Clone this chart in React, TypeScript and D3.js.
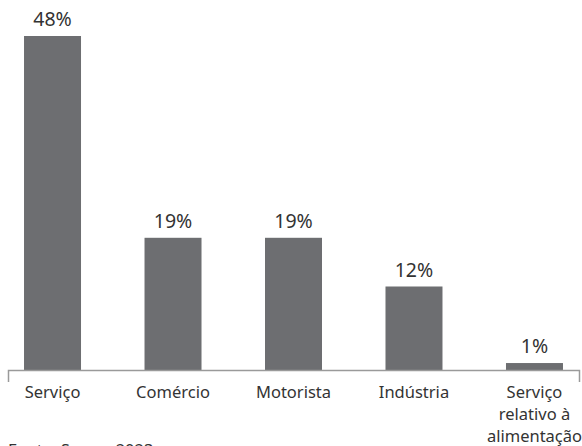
import React, { useEffect, useRef } from "react";
import * as d3 from "d3";

const categories: string[][] = [
  ["Serviço"],
  ["Comércio"],
  ["Motorista"],
  ["Indústria"],
  ["Serviço", "relativo à", "alimentação"],
];
const values: number[] = [48, 19, 19, 12, 1];
const valueLabels: string[] = ["48%", "19%", "19%", "12%", "1%"];
const sourceText = "Fonte: Souza, 2023";

const W = 582;
const H = 446;
const FONT = "'Noto Sans', sans-serif";

export default function App() {
  const axisRef = useRef<SVGGElement>(null);
  const keys = categories.map((c) => c.join(" "));
  const x = d3
    .scaleBand<string>()
    .domain(keys)
    .range([8, 579])
    .paddingInner(0.527)
    .paddingOuter(0.133);
  const y = d3.scaleLinear().domain([0, 48]).range([370, 36]);

  useEffect(() => {
    if (!axisRef.current) return;
    const g = d3.select(axisRef.current);
    g.selectAll("*").remove();
    g.call(d3.axisBottom(x).tickSizeInner(0).tickSizeOuter(12).tickFormat(() => ""));
    g.select(".domain").attr("stroke", "#9a9a9a").attr("stroke-width", 1.5);
    g.selectAll(".tick").remove();
  }, []);

  return (
    <svg
      width={W}
      height={H}
      style={{ position: "absolute", left: 0, top: 0, background: "#fff" }}
      fontFamily={FONT}
    >
      {values.map((v, i) => (
        <rect
          key={keys[i]}
          x={x(keys[i])}
          y={y(v)}
          width={x.bandwidth()}
          height={y(0) - y(v)}
          fill="#6d6e71"
        />
      ))}
      <g ref={axisRef} transform={`translate(0,${y(0)})`} />
      {values.map((v, i) => (
        <text
          key={"v" + i}
          x={(x(keys[i]) as number) + x.bandwidth() / 2}
          y={y(v) - 10}
          textAnchor="middle"
          fontSize={19.5}
          fill="#333333"
        >
          {valueLabels[i]}
        </text>
      ))}
      {categories.map((lines, i) => (
        <text
          key={"c" + i}
          x={(x(keys[i]) as number) + x.bandwidth() / 2}
          y={398}
          textAnchor="middle"
          fontSize={16.5}
          fill="#333333"
        >
          {lines.map((l, j) => (
            <tspan key={j} x={(x(keys[i]) as number) + x.bandwidth() / 2} dy={j === 0 ? 0 : 22}>
              {l}
            </tspan>
          ))}
        </text>
      ))}
      <text x={8} y={456} fontSize={16.5} fill="#333333">
        {sourceText}
      </text>
    </svg>
  );
}
